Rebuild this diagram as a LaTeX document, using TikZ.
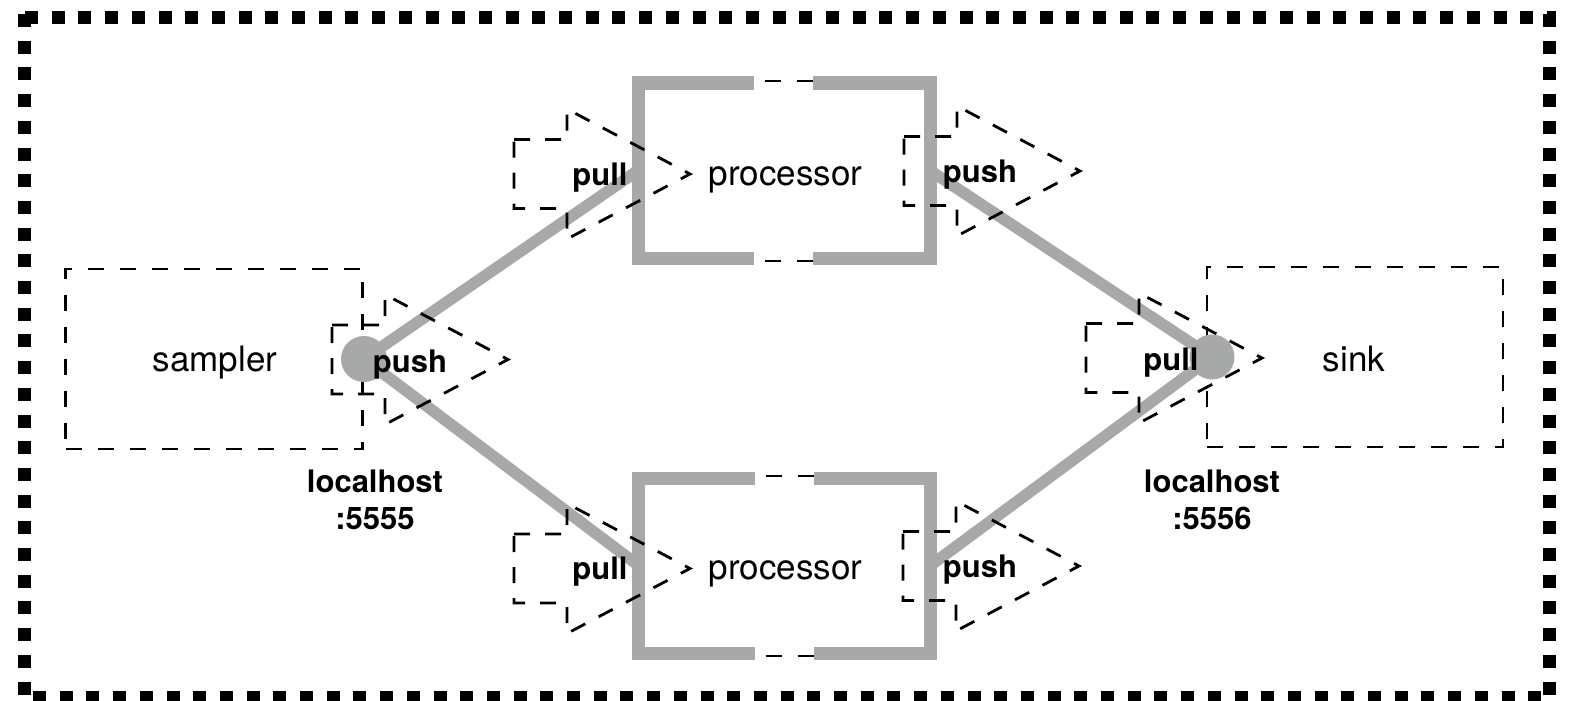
\documentclass[tikz,border=0pt]{standalone}
\usepackage{fontspec}
\setmainfont{TeX Gyre Heros}
\usetikzlibrary{calc}
\definecolor{pgray}{RGB}{166,169,168}
\tikzset{
  outerborder/.style={draw=black, line width=13pt, line cap=butt, dash pattern=on 13pt off 13.7pt},
  dbox/.style={draw=black, line width=2.8pt, dash pattern=on 16pt off 16pt, minimum width=297pt, minimum height=180pt, inner sep=0pt, outer sep=0pt},
  procbox/.style={minimum width=292pt, minimum height=175pt, inner sep=0pt, outer sep=0pt},
  procframe/.style={draw=pgray, line width=13pt, line join=miter, line cap=butt},
  gapdash/.style={draw=black, line width=2.8pt, dash pattern=on 16pt off 16pt, dash phase=-11pt},
  conn/.style={draw=pgray, line width=11.5pt, line cap=butt},
  portline/.style={draw=black, line width=2.8pt, dash pattern=on 16pt off 15pt},
  dotnode/.style={circle, fill=pgray, minimum size=46pt, inner sep=0pt},
  lighttxt/.style={font=\fontsize{35}{42}\selectfont, inner sep=0pt, anchor=base},
  boldtxt/.style={font=\fontsize{31}{37}\selectfont\bfseries, inner sep=0pt, anchor=base},
  hosttxt/.style={font=\fontsize{31}{37}\selectfont\bfseries, inner sep=0pt, align=center},
  port/.pic={\draw[portline] (0,-34.5) -- (53,-34.5) -- (53,-65) -- (176,0) -- (53,65) -- (53,34.5) -- (0,34.5) -- cycle;}
}
\begin{document}
\begin{tikzpicture}[x=1pt,y=-1pt]
\useasboundingbox (0,0) rectangle (1569,701);
% outer dotted border
\draw[outerborder] (24.5,14) -- (24.5,695);
\draw[outerborder] (25,17.5) -- (1556,17.5);
\draw[outerborder] (1549.5,14) -- (1549.5,695);
\draw[outerborder] (33,697.5) -- (1545,697.5);
% sampler and sink boxes
\node[dbox] (sampler) at (214,359) {};
\node[dbox, minimum width=296pt, minimum height=180pt] (sink) at (1355,357) {};
% processors (frame geometry)
\node[procbox] (p1) at (784,170.5) {};
\node[procbox] (p2) at (784.5,565.5) {};
% socket points
\coordinate (sdot) at (364,359);
\coordinate (kdot) at (1212,357);
% grey connectors
\draw[conn] (sdot) -- (p1.west);
\draw[conn] (sdot) -- (p2.west);
\draw[conn] (p1.east) -- (kdot);
\draw[conn] (p2.east) -- (kdot);
% processor frames
\foreach \p in {p1,p2}{
  \draw[procframe] ([xshift=-30pt]\p.north) -- (\p.north west) -- (\p.south west) -- ([xshift=-30pt]\p.south);
  \draw[procframe] ([xshift=29pt]\p.north) -- (\p.north east) -- (\p.south east) -- ([xshift=29pt]\p.south);
  \draw[gapdash] ([xshift=-30pt,yshift=2pt]\p.north) -- ([xshift=29pt,yshift=2pt]\p.north);
  \draw[gapdash] ([xshift=-30pt,yshift=-3pt]\p.south) -- ([xshift=29pt,yshift=-3pt]\p.south);
}
% ports
\pic (portA) at (514,174) {port};
\pic (portB) at (904,171) {port};
\pic (portC) at (332,359.5) {port};
\pic (portD) at (1086,358) {port};
\pic (portE) at (514,568.5) {port};
\pic (portF) at (903,566) {port};
% socket dots
\node[dotnode] (sampdot) at (sdot) {};
\node[dotnode, minimum size=45pt] (sinkdot) at (kdot) {};
% labels
\node[lighttxt] (samplerlabel) at (215,371) {sampler};
\node[lighttxt] (sinklabel) at (1354,371) {sink};
\node[lighttxt] (p1label) at (785.5,185) {processor};
\node[lighttxt] (p2label) at (785.5,579) {processor};
\node[boldtxt] (pullA) at (600,185) {pull};
\node[boldtxt] (pushB) at (980,182) {push};
\node[boldtxt] (pushC) at (410,372) {push};
\node[boldtxt] (pullD) at (1171,370) {pull};
\node[boldtxt] (pullE) at (600,579) {pull};
\node[boldtxt] (pushF) at (980,577) {push};
\node[hosttxt] (host1) at (375,499.5) {localhost\\:5555};
\node[hosttxt] (host2) at (1212,499.5) {localhost\\:5556};
\end{tikzpicture}
\end{document}
